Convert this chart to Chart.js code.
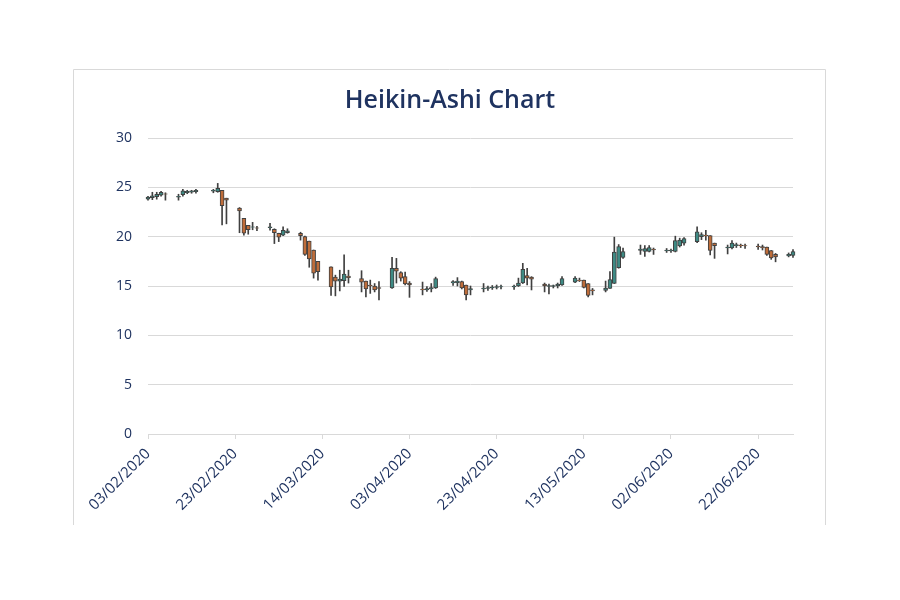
<!DOCTYPE html>
<html>
<head>
<meta charset="utf-8">
<title>Heikin-Ashi Chart</title>
<script src="https://cdn.jsdelivr.net/npm/chart.js@4.4.1/dist/chart.umd.min.js"></script>
<style>
    html, body { margin: 0; padding: 0; background: #fff; }
    #wrap { width: 900px; height: 600px; }
</style>
</head>
<body>
<div id="wrap"><canvas id="ha-chart" width="900" height="600"></canvas></div>
<script>
// --- Data ---
const dates = [
    '03/02/2020', '04/02/2020', '05/02/2020', '06/02/2020', '07/02/2020',
    '10/02/2020', '11/02/2020', '12/02/2020', '13/02/2020', '14/02/2020',
    '18/02/2020', '19/02/2020', '20/02/2020', '21/02/2020',
    '24/02/2020', '25/02/2020', '26/02/2020', '27/02/2020', '28/02/2020',
    '02/03/2020', '03/03/2020', '04/03/2020', '05/03/2020', '06/03/2020',
    '09/03/2020', '10/03/2020', '11/03/2020', '12/03/2020', '13/03/2020',
    '16/03/2020', '17/03/2020', '18/03/2020', '19/03/2020', '20/03/2020',
    '23/03/2020', '24/03/2020', '25/03/2020', '26/03/2020', '27/03/2020',
    '30/03/2020', '31/03/2020', '01/04/2020', '02/04/2020', '03/04/2020',
    '06/04/2020', '07/04/2020', '08/04/2020', '09/04/2020',
    '13/04/2020', '14/04/2020', '15/04/2020', '16/04/2020', '17/04/2020',
    '20/04/2020', '21/04/2020', '22/04/2020', '23/04/2020', '24/04/2020',
    '27/04/2020', '28/04/2020', '29/04/2020', '30/04/2020', '01/05/2020',
    '04/05/2020', '05/05/2020', '06/05/2020', '07/05/2020', '08/05/2020',
    '11/05/2020', '12/05/2020', '13/05/2020', '14/05/2020', '15/05/2020',
    '18/05/2020', '19/05/2020', '20/05/2020', '21/05/2020', '22/05/2020',
    '26/05/2020', '27/05/2020', '28/05/2020', '29/05/2020',
    '01/06/2020', '02/06/2020', '03/06/2020', '04/06/2020', '05/06/2020',
    '08/06/2020', '09/06/2020', '10/06/2020', '11/06/2020', '12/06/2020',
    '15/06/2020', '16/06/2020', '17/06/2020', '18/06/2020', '19/06/2020',
    '22/06/2020', '23/06/2020', '24/06/2020', '25/06/2020', '26/06/2020',
    '29/06/2020', '30/06/2020'
];

const openValues = [
    23.8, 23.95, 24.05, 24.2, 24.35,
    24.0, 24.25, 24.45, 24.5, 24.55,
    24.6, 24.55, 24.7, 23.9,
    22.9, 21.85, 21.15, 20.95, 20.9,
    20.9, 20.75, 20.35, 20.15, 20.4,
    20.35, 20.0, 19.55, 18.65, 17.5,
    16.95, 15.9, 15.5, 15.55, 16.0,
    15.75, 15.5, 15.1, 15.0, 14.85,
    14.8, 16.8, 16.35, 15.95, 15.3,
    14.7, 14.6, 14.7, 14.8,
    15.3, 15.35, 15.45, 15.1, 14.6,
    14.7, 14.75, 14.8, 14.85, 14.9,
    14.9, 15.0, 15.3, 16.05, 15.9,
    15.2, 14.95, 14.95, 15.0, 15.1,
    15.4, 15.6, 15.6, 15.25, 14.6,
    14.55, 14.75, 15.25, 16.85, 17.9,
    18.6, 18.5, 18.5, 18.75,
    18.55, 18.55, 18.5, 19.05, 19.35,
    19.5, 20.0, 20.15, 20.1, 19.35,
    18.85, 18.85, 19.1, 19.15, 19.1,
    19.05, 19.0, 18.95, 18.6, 18.2,
    18.05, 18.1
];

const highValues = [
    24.1, 24.5, 24.5, 24.6, 24.45,
    24.3, 24.8, 24.7, 24.7, 24.8,
    24.8, 25.4, 24.7, 23.9,
    22.95, 21.85, 21.15, 21.45, 21.05,
    21.35, 20.8, 20.35, 21.0, 20.8,
    20.45, 20.05, 19.55, 18.65, 17.5,
    16.95, 16.1, 16.6, 18.15, 16.6,
    16.55, 15.5, 15.6, 15.25, 15.45,
    17.9, 17.8, 16.45, 16.4, 15.45,
    15.4, 14.95, 15.25, 15.9,
    15.55, 15.85, 15.5, 15.1, 15.0,
    15.25, 15.0, 15.05, 15.1, 15.1,
    15.1, 15.8, 17.3, 16.8, 15.95,
    15.3, 15.2, 15.1, 15.3, 15.95,
    15.95, 15.8, 15.6, 15.25, 14.75,
    15.5, 16.45, 19.95, 19.2, 18.85,
    19.15, 19.1, 19.1, 18.85,
    18.8, 18.75, 20.05, 19.85, 19.9,
    21.0, 20.4, 20.65, 20.1, 19.35,
    19.15, 19.6, 19.35, 19.25, 19.25,
    19.25, 19.15, 18.95, 18.6, 18.3,
    18.35, 18.7
];

const lowValues = [
    23.7, 23.75, 23.8, 24.1, 23.7,
    23.7, 24.1, 24.35, 24.4, 24.4,
    24.45, 24.5, 21.2, 21.3,
    20.4, 20.15, 20.25, 20.7, 20.6,
    20.65, 19.3, 19.5, 20.1, 20.35,
    19.65, 18.1, 16.9, 15.8, 15.6,
    14.05, 14.0, 14.5, 14.95, 15.3,
    14.4, 13.9, 14.25, 14.4, 13.6,
    14.75, 15.3, 15.5, 15.1, 13.85,
    14.1, 14.45, 14.4, 14.75,
    15.05, 15.0, 14.7, 13.6, 14.1,
    14.4, 14.55, 14.65, 14.7, 14.7,
    14.65, 14.95, 15.25, 15.1, 14.6,
    14.4, 14.2, 14.8, 14.8, 15.05,
    15.35, 15.45, 14.8, 13.9, 14.1,
    14.4, 14.75, 15.25, 16.8, 17.8,
    18.2, 18.0, 18.45, 18.2,
    18.4, 18.4, 18.45, 18.95, 19.15,
    19.4, 19.7, 19.65, 18.15, 17.8,
    18.25, 18.75, 18.9, 18.9, 18.8,
    18.7, 18.65, 18.1, 17.7, 17.45,
    17.95, 17.9
];

const closeValues = [
    24.0, 24.15, 24.3, 24.5, 24.3,
    24.1, 24.65, 24.6, 24.65, 24.7,
    24.7, 24.9, 23.15, 23.7,
    22.6, 20.35, 20.7, 21.0, 20.85,
    21.0, 20.4, 19.95, 20.65, 20.6,
    20.1, 18.2, 17.75, 16.3, 16.45,
    14.9, 15.5, 15.7, 16.2, 15.85,
    15.4, 14.7, 15.0, 14.6, 14.75,
    16.8, 16.5, 15.8, 15.2, 15.1,
    14.6, 14.75, 14.85, 15.75,
    15.45, 15.5, 14.8, 14.1, 14.75,
    14.8, 14.85, 14.9, 14.95, 14.95,
    15.0, 15.3, 16.7, 15.8, 15.7,
    15.0, 15.05, 15.05, 15.2, 15.75,
    15.8, 15.55, 14.85, 14.05, 14.5,
    14.8, 15.65, 18.45, 19.0, 18.5,
    18.75, 18.8, 18.9, 18.65,
    18.65, 18.65, 19.6, 19.65, 19.8,
    20.5, 20.2, 20.1, 18.6, 19.1,
    18.95, 19.35, 19.2, 19.1, 19.05,
    18.95, 18.85, 18.2, 17.85, 17.95,
    18.2, 18.5
];

const yTicks = [0, 5, 10, 15, 20, 25, 30];
const lastDay = '30/06/2020';
const tickEveryDays = 20;

// --- Helpers ---
const DAY_MS = 24 * 60 * 60 * 1000;
const parseDate = (s) => {
    const [d, m, y] = s.split('/').map(Number);
    return Date.UTC(y, m - 1, d);
};
const startMs = parseDate(dates[0]);
const dayIndex = (s) => Math.round((parseDate(s) - startMs) / DAY_MS);
const formatDay = (idx) => {
    const dt = new Date(startMs + idx * DAY_MS);
    const dd = String(dt.getUTCDate()).padStart(2, '0');
    const mm = String(dt.getUTCMonth() + 1).padStart(2, '0');
    return `${dd}/${mm}/${dt.getUTCFullYear()}`;
};

const UP_COLOR = '#3e8a84';
const DOWN_COLOR = '#bf6d3a';
const EDGE_COLOR = '#404040';
const TEXT_COLOR = '#1f3360';
const GRID_COLOR = '#d9d9d9';
const FONT = "'Open Sans', 'DejaVu Sans', sans-serif";

const bodies = dates.map((d, i) => ({ x: dayIndex(d), y: [openValues[i], closeValues[i]] }));
const wicks = dates.map((d, i) => ({ x: dayIndex(d), y: [lowValues[i], highValues[i]] }));
const bodyColors = dates.map((_, i) => closeValues[i] >= openValues[i] ? UP_COLOR : DOWN_COLOR);

// frame + title, drawn like the spreadsheet chart box
const framePlugin = {
    id: 'frame',
    afterDraw(chart) {
        const c = chart.ctx;
        c.save();
        c.strokeStyle = GRID_COLOR;
        c.lineWidth = 1;
        c.beginPath();
        c.moveTo(73.5, 525);
        c.lineTo(73.5, 69.5);
        c.lineTo(825.5, 69.5);
        c.lineTo(825.5, 525);
        c.stroke();
        c.fillStyle = TEXT_COLOR;
        c.font = `600 25px ${FONT}`;
        c.textAlign = 'center';
        c.textBaseline = 'middle';
        c.fillText('Heikin-Ashi Chart', 450, 101);
        c.restore();
    }
};

new Chart(document.getElementById('ha-chart'), {
    type: 'bar',
    data: {
        datasets: [
            {
                label: 'Body',
                data: bodies,
                backgroundColor: bodyColors,
                borderColor: EDGE_COLOR,
                borderWidth: 1,
                borderSkipped: false,
                barThickness: 4,
                grouped: false,
                order: 0,
                clip: 6
            },
            {
                label: 'Wick',
                data: wicks,
                backgroundColor: EDGE_COLOR,
                borderWidth: 0,
                barThickness: 1,
                grouped: false,
                order: 1,
                clip: 6
            }
        ]
    },
    options: {
        responsive: false,
        animation: false,
        layout: { padding: { left: 73, right: 107, top: 138, bottom: 76 } },
        plugins: {
            legend: { display: false },
            title: { display: false },
            tooltip: { enabled: false }
        },
        scales: {
            x: {
                type: 'linear',
                min: 0,
                max: dayIndex(lastDay),
                offset: false,
                afterFit: (s) => { s.height = 90; },
                grid: { offset: false, drawOnChartArea: false, drawTicks: true, tickLength: 5, color: GRID_COLOR },
                border: { color: GRID_COLOR },
                ticks: {
                    stepSize: tickEveryDays,
                    includeBounds: false,
                    autoSkip: false,
                    maxRotation: 45,
                    minRotation: 45,
                    padding: 6,
                    color: TEXT_COLOR,
                    font: { family: FONT, size: 15 },
                    callback: (v) => formatDay(v)
                }
            },
            y: {
                min: yTicks[0],
                max: yTicks[yTicks.length - 1],
                afterFit: (s) => { s.width = 75; },
                grid: { color: GRID_COLOR, drawTicks: false },
                border: { display: false },
                ticks: {
                    stepSize: yTicks[1] - yTicks[0],
                    padding: 16,
                    color: TEXT_COLOR,
                    font: { family: FONT, size: 14 }
                }
            }
        }
    },
    plugins: [framePlugin]
});
</script>
</body>
</html>
